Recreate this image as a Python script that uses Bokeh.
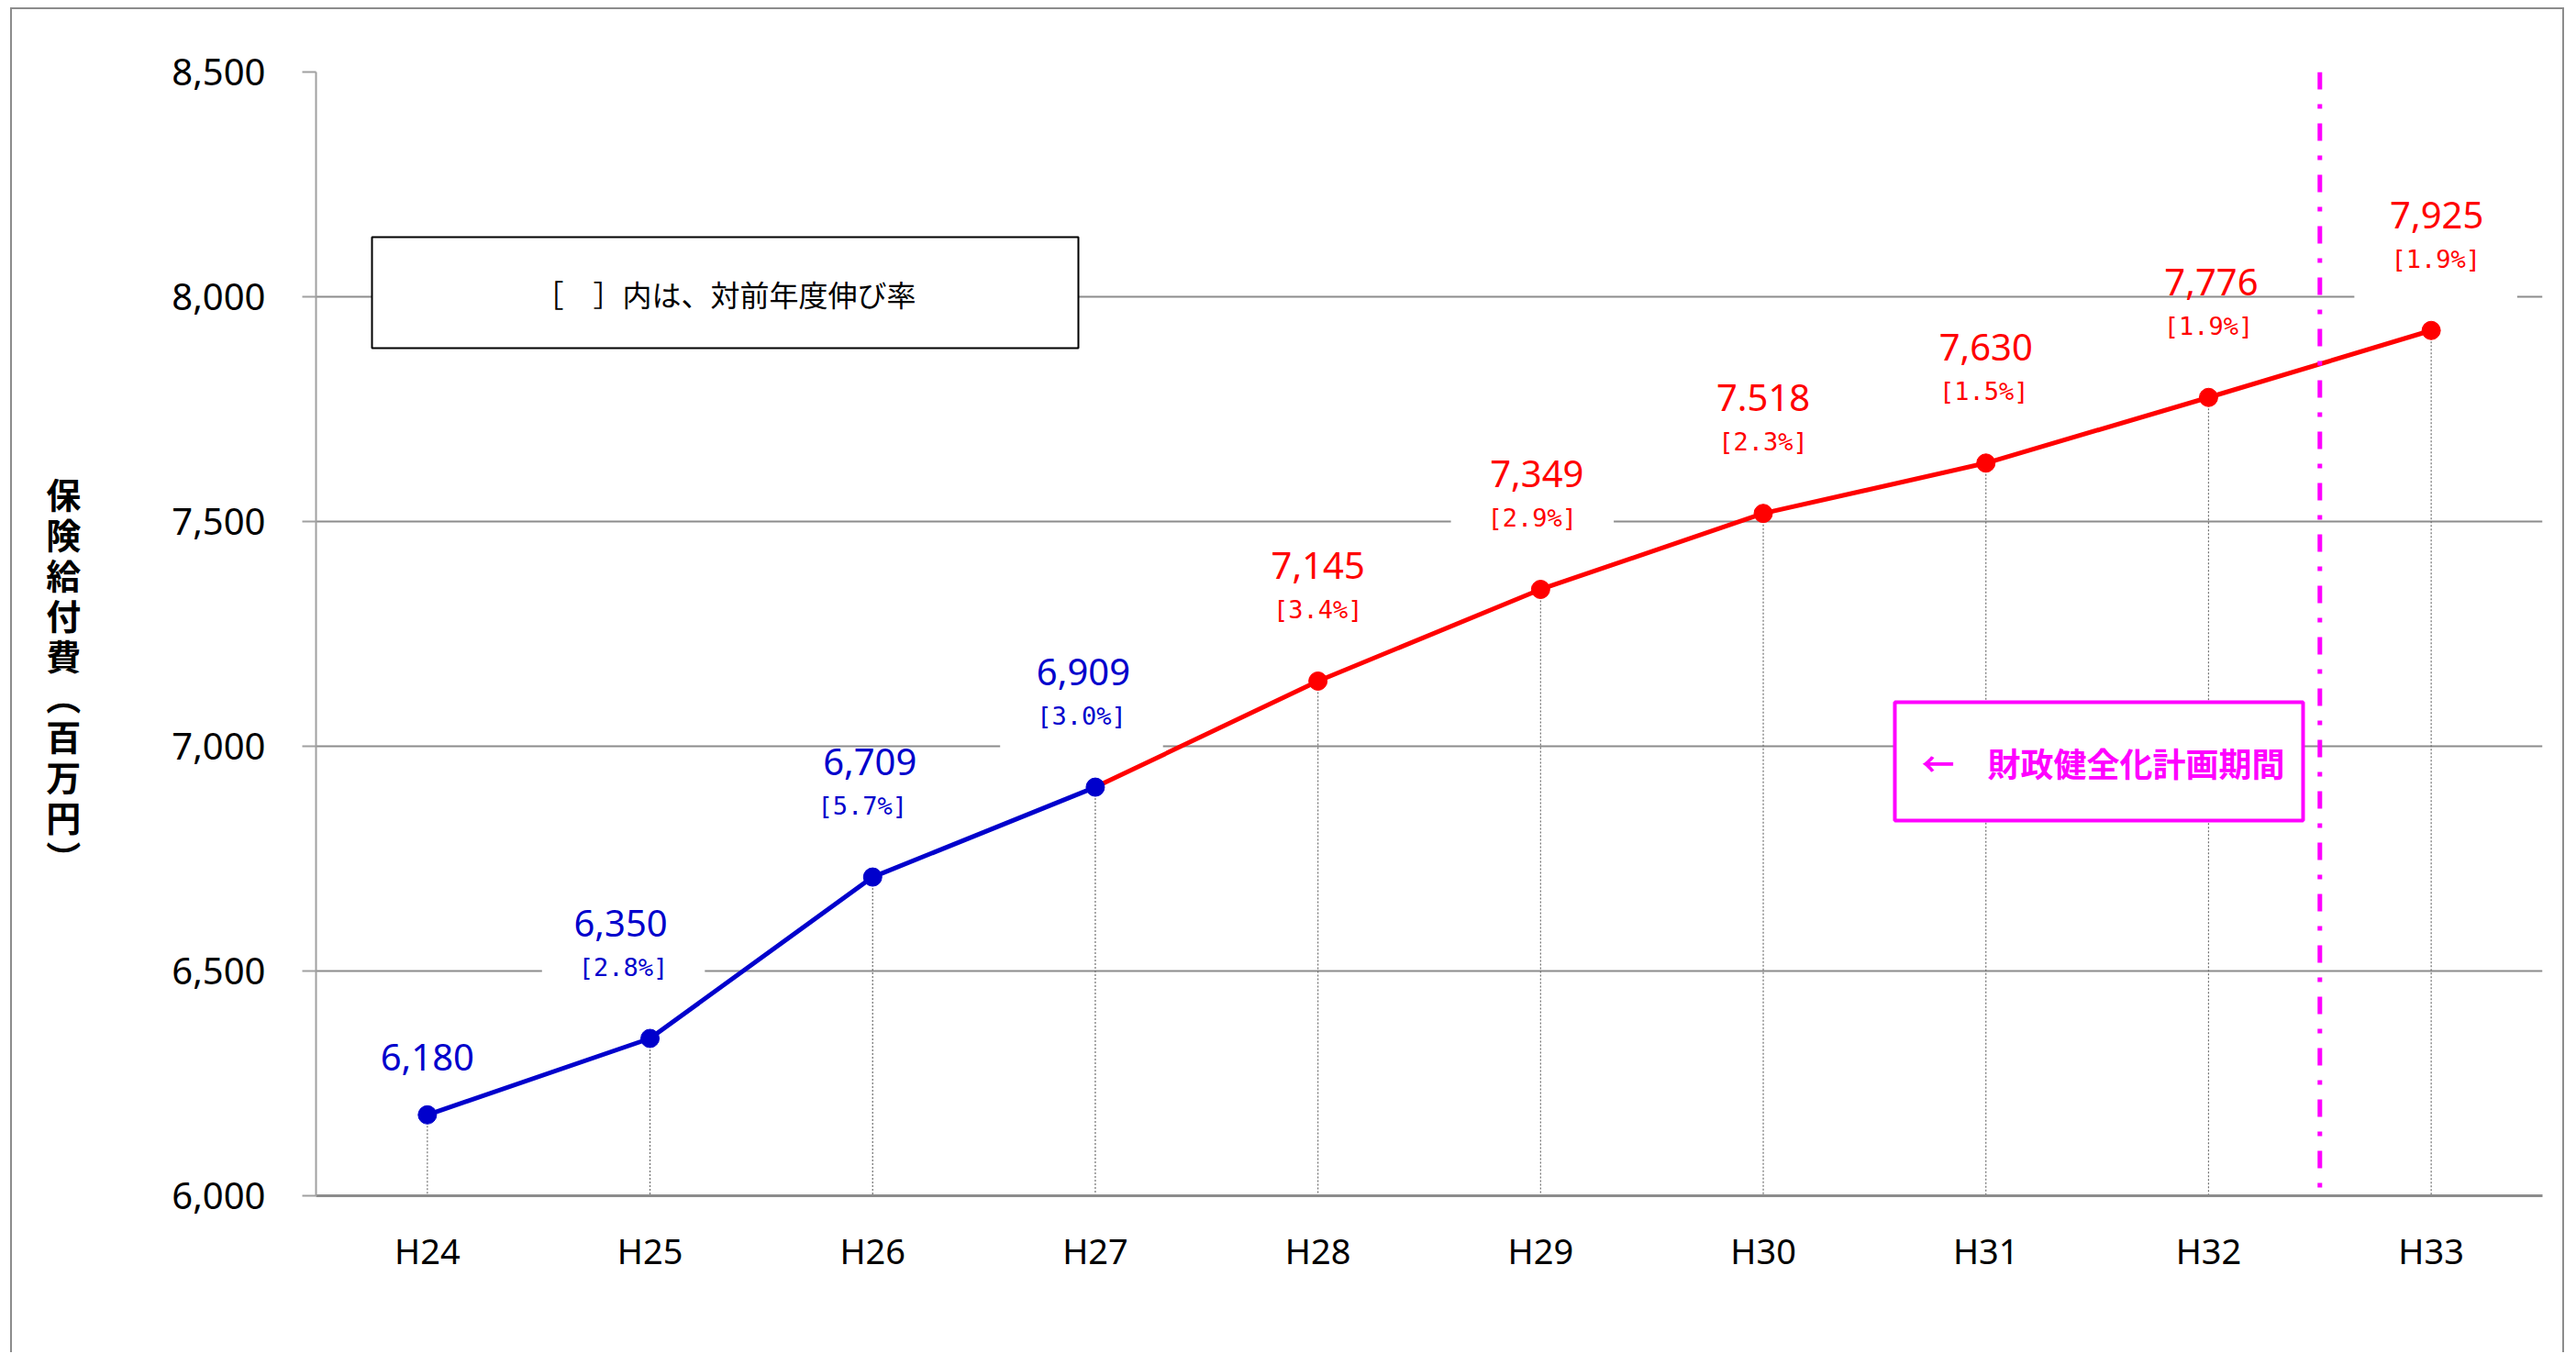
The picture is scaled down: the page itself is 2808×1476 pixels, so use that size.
from bokeh.plotting import figure
from bokeh.models import (ColumnDataSource, Span, BoxAnnotation, Label, FactorRange,
                          Range1d, NumeralTickFormatter, FixedTicker)
from bokeh.core.properties import value
from bokeh.embed import file_html
from bokeh.resources import INLINE

# ---- data ----
years = ["H24", "H25", "H26", "H27", "H28", "H29", "H30", "H31", "H32", "H33"]
benefits = [6180, 6350, 6709, 6909, 7145, 7349, 7518, 7630, 7776, 7925]
value_labels = ["6,180", "6,350", "6,709", "6,909", "7,145", "7,349", "7.518", "7,630", "7,776", "7,925"]
growth_rates = [None, 2.8, 5.7, 3.0, 3.4, 2.9, 2.3, 1.5, 1.9, 1.9]
y_ticks = [6000, 6500, 7000, 7500, 8000, 8500]
n_actual = 4            # H24..H27 drawn in blue
plan_last = "H32"        # last year of the fiscal plan period
y_title = "保険給付費（百万円）"
note_text = "［　］内は、対前年度伸び率"
plan_text = "←　財政健全化計画期間"

# small horizontal nudges (pixels) of the data labels, as placed in the original
value_nudge = [0, -32, -3, -13, 0, -4, 0, 0, 3, 6]
growth_nudge = [0, -29, -11, -15, 0, -9, 0, -2, 0, 5]

BLUE = "#0000CC"
RED = "#FF0000"
MAGENTA = "#FF00FF"
GRID = "#8c8c8c"

# page placement of the chart-area border (the canvas sits inside it)
OX, OY = 13, 10
W, H = 2784, 1466

p = figure(x_range=FactorRange(*years, range_padding=0), y_range=Range1d(6000, 8500),
           width=W, height=H, output_backend="svg", toolbar_location=None,
           min_border_left=344 - OX, min_border_right=OX + W - 2771,
           min_border_top=78 - OY, min_border_bottom=OY + H - 1303)
p.styles = {"margin-left": "11px", "margin-top": "8px",
            "border-left": "2px solid #8c8c8c", "border-top": "2px solid #8c8c8c",
            "border-right": "2px solid #8c8c8c"}
p.title.visible = False
p.outline_line_color = None
p.background_fill_color = "white"
p.border_fill_color = "white"

# grid
p.xgrid.grid_line_color = None
p.ygrid.ticker = FixedTicker(ticks=y_ticks)
p.ygrid.grid_line_color = GRID
p.ygrid.grid_line_width = 2

# y axis
p.yaxis.ticker = FixedTicker(ticks=y_ticks)
p.yaxis.formatter = NumeralTickFormatter(format="0,0")
p.yaxis.minor_tick_line_color = None
p.yaxis.major_tick_out = 15
p.yaxis.major_tick_in = 0
p.yaxis.major_tick_line_color = "#a0a0a0"
p.yaxis.major_tick_line_width = 2
p.yaxis.axis_line_color = "#a0a0a0"
p.yaxis.axis_line_width = 2
p.yaxis.major_label_standoff = 40
p.yaxis.major_label_text_font = "Noto Sans"
p.yaxis.major_label_text_font_size = "40px"
p.yaxis.major_label_text_color = "black"

# y axis title in vertical writing (one character per line)
vt = y_title.replace("（", "︵").replace("）", "︶")
p.yaxis.axis_label = "\n\n" + "\n".join(vt)
p.yaxis.axis_label_orientation = "horizontal"
p.yaxis.axis_label_standoff = 96
p.yaxis.axis_label_text_font = "Noto Sans CJK JP"
p.yaxis.axis_label_text_font_size = "38px"
p.yaxis.axis_label_text_font_style = "bold"
p.yaxis.axis_label_text_color = "black"
p.yaxis.axis_label_text_line_height = 0.80

# x axis
p.xaxis.major_tick_out = 0
p.xaxis.major_tick_in = 0
p.xaxis.axis_line_color = GRID
p.xaxis.axis_line_width = 3
p.xaxis.major_label_standoff = 33
p.xaxis.major_label_text_font = "Noto Sans"
p.xaxis.major_label_text_font_size = "38px"
p.xaxis.major_label_text_color = "black"

colors = [BLUE if i < n_actual else RED for i in range(len(years))]

# growth labels (white boxes hide the gridlines, drawn below the series line)
gi = [i for i, g in enumerate(growth_rates) if g is not None]
gsrc = ColumnDataSource(dict(x=[years[i] for i in gi], y=[benefits[i] for i in gi],
                             t=["[%.1f%%]" % growth_rates[i] for i in gi],
                             c=[colors[i] for i in gi],
                             dx=[growth_nudge[i] for i in gi]))
p.text(x="x", y="y", text="t", source=gsrc, x_offset="dx", y_offset=-66, text_color="c",
       text_font=value("DejaVu Sans Mono"), text_font_size="27px",
       text_align="center", text_baseline="middle",
       background_fill_color="white", background_fill_alpha=1.0,
       padding=dict(left=40, right=40, top=6, bottom=30))

# drop lines
base = [p.y_range.start] * len(years)
p.segment(x0=years, y0=benefits, x1=years, y1=base, line_color="#707070",
          line_width=1.2, line_dash="2 2")

# series
p.line(years[:n_actual], benefits[:n_actual], line_color=BLUE, line_width=5)
p.line(years[n_actual - 1:], benefits[n_actual - 1:], line_color=RED, line_width=5)
p.scatter(years, benefits, size=20, marker="circle", fill_color=colors, line_color=colors)

# value labels
voff = [-63 if g is None else -126 for g in growth_rates]
vsrc = ColumnDataSource(dict(x=years, y=benefits, t=value_labels, c=colors, off=voff,
                             dx=value_nudge))
p.text(x="x", y="y", text="t", source=vsrc, x_offset="dx", y_offset="off", text_color="c",
       text_font=value("Noto Sans"), text_font_size="40px",
       text_align="center", text_baseline="middle")

# plan period boundary
p.add_layout(Span(location=years.index(plan_last) + 1, dimension="height",
                  line_color=MAGENTA, line_width=5, line_dash="19 16 5 16"))

# note box
p.add_layout(BoxAnnotation(left=403 - OX, right=1173 - OX, top=256 - OY, bottom=377 - OY,
                           left_units="canvas", right_units="canvas",
                           top_units="canvas", bottom_units="canvas",
                           fill_color="white", fill_alpha=1, line_color="black",
                           line_alpha=1, line_width=2))
p.add_layout(Label(x=788 - OX, y=317 - OY, x_units="canvas", y_units="canvas", text=note_text,
                   text_font="Noto Sans CJK JP", text_font_size="32px", text_color="black",
                   text_align="center", text_baseline="middle"))

# plan box
p.add_layout(BoxAnnotation(left=2063 - OX, right=2508 - OX, top=763 - OY, bottom=892 - OY,
                           left_units="canvas", right_units="canvas",
                           top_units="canvas", bottom_units="canvas",
                           fill_color="white", fill_alpha=1, line_color=MAGENTA,
                           line_alpha=1, line_width=4))
p.add_layout(Label(x=2290 - OX, y=828 - OY, x_units="canvas", y_units="canvas", text=plan_text,
                   text_font="Noto Sans CJK JP", text_font_size="36px", text_font_style="bold",
                   text_color=MAGENTA, text_align="center", text_baseline="middle"))

open("out.html", "w").write(file_html(p, INLINE))
